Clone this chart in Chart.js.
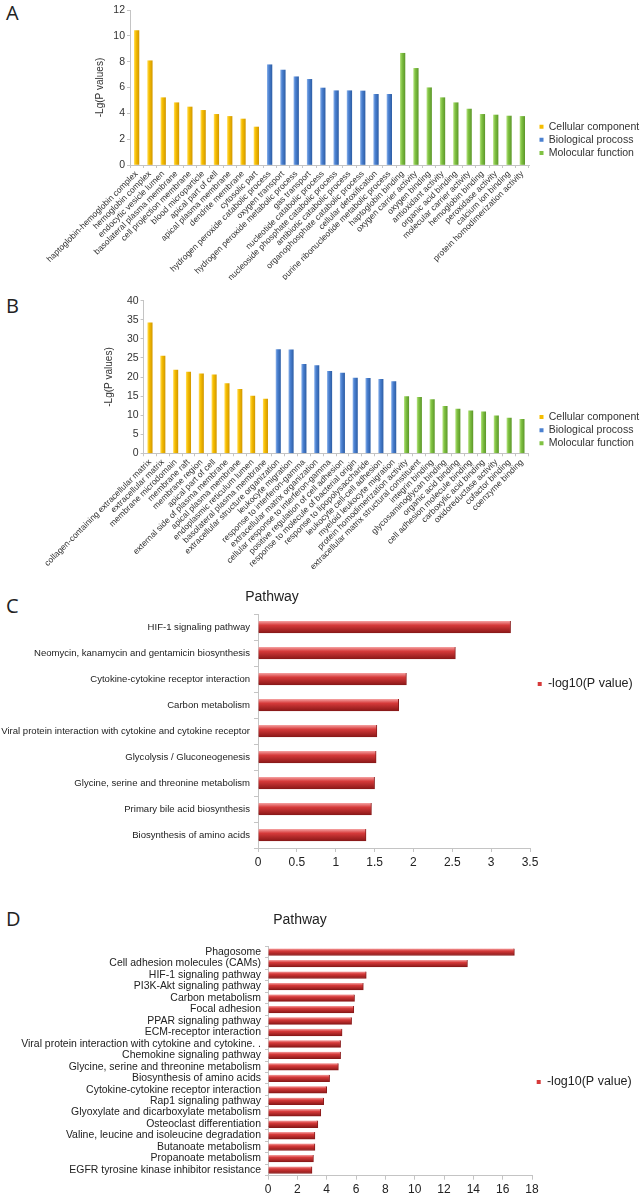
<!DOCTYPE html>
<html><head><meta charset="utf-8">
<script src="https://cdn.jsdelivr.net/npm/chart.js@4.4.1/dist/chart.umd.min.js"></script>
<style>
html,body{margin:0;padding:0;background:#fff;}
body{width:640px;height:1196px;position:relative;overflow:hidden;}
canvas{position:absolute;left:0;}
.letter{position:absolute;font-family:'Open Sans','Liberation Sans',sans-serif;font-size:20px;line-height:24px;color:#222;}
</style></head><body>
<div class="letter" style="left:6px;top:1px">A</div>
<div class="letter" style="left:6px;top:294px">B</div>
<div class="letter" style="left:6px;top:594px">C</div>
<div class="letter" style="left:6px;top:907px">D</div>
<canvas id="cA" width="640" height="280" style="top:0px"></canvas>
<canvas id="cB" width="640" height="300" style="top:280px"></canvas>
<canvas id="cC" width="640" height="300" style="top:580px"></canvas>
<canvas id="cD" width="640" height="316" style="top:880px"></canvas>
<script>
// ---------------- DATA ----------------
const seriesNames = ['Cellular component', 'Biological procoss', 'Molocular function'];

const aLabels = ['haptoglobin-hemoglobin complex','hemoglobin complex','endocytic vesicle lumen','basolateral plasma membrane','cell projection membrane','blood microparticle','apical part of cell','apical plasma membrane','dendrite membrane','cytosolic part',
 'hydrogen peroxide catabolic process','oxygen transport','hydrogen peroxide metabolic process','gas transport','nucleotide catabolic process','nucleoside phosphate catabolic process','antibiotic catabolic process','organophosphate catabolic process','cellular detoxification','purine ribonucleotide metabolic process',
 'haptoglobin binding','oxygen carrier activity','oxygen binding','antioxidant activity','organic acid binding','molecular carrier activity','hemoglobin binding','peroxidase activity','calcium ion binding','protein homodimerization activity'];
const aCellular = [10.4, 8.07, 5.21, 4.82, 4.49, 4.23, 3.92, 3.76, 3.56, 2.94];
const aBiological = [7.76, 7.35, 6.83, 6.63, 5.96, 5.75, 5.75, 5.73, 5.47, 5.47];
const aMolecular = [8.65, 7.48, 5.98, 5.21, 4.82, 4.33, 3.92, 3.87, 3.79, 3.76];
const aTicks = {min: 0, max: 12, step: 2};

const bLabels = ['collagen-containing extracellular matrix','extracellular matrix','membrane microdomain','membrane raft','membrane region','apical part of cell','external side of plasma membrane','apical plasma membrane','endoplasmic reticulum lumen','basolateral plasma membrane',
 'extracellular structure organization','leukocyte migration','response to interferon-gamma','extracellular matrix organization','cellular response to interferon-gamma','positive regulation of cell adhesion','response to molecule of bacterial origin','response to lipopolysaccharide','leukocyte cell-cell adhesion','myeloid leukocyte migration',
 'protein homodimerization activity','extracellular matrix structural constituent','integrin binding','glycosaminoglycan binding','organic acid binding','cell adhesion molecule binding','carboxylic acid binding','oxidoreductase activity','cofactor binding','coenzyme binding'];
const bCellular = [34.2, 25.5, 21.8, 21.3, 20.8, 20.6, 18.3, 16.8, 15.0, 14.2];
const bBiological = [27.2, 27.1, 23.3, 23.0, 21.5, 21.0, 19.7, 19.65, 19.4, 18.8];
const bMolecular = [14.85, 14.7, 14.1, 12.3, 11.6, 11.1, 10.9, 9.8, 9.2, 8.9];
const bTicks = {min: 0, max: 40, step: 5};

const cLabels = ['HIF-1 signaling pathway','Neomycin, kanamycin and gentamicin biosynthesis','Cytokine-cytokine receptor interaction','Carbon metabolism','Viral protein interaction with cytokine and cytokine receptor','Glycolysis / Gluconeogenesis','Glycine, serine and threonine metabolism','Primary bile acid biosynthesis','Biosynthesis of amino acids'];
const cValues = [3.25, 2.54, 1.91, 1.81, 1.53, 1.52, 1.50, 1.46, 1.39];
const cTicks = {min: 0, max: 3.5, step: 0.5};

const dLabels = ['Phagosome','Cell adhesion molecules (CAMs)','HIF-1 signaling pathway','PI3K-Akt signaling pathway','Carbon metabolism','Focal adhesion','PPAR signaling pathway','ECM-receptor interaction','Viral protein interaction with cytokine and cytokine. .','Chemokine signaling pathway','Glycine, serine and threonine metabolism','Biosynthesis of amino acids','Cytokine-cytokine receptor interaction','Rap1 signaling pathway','Glyoxylate and dicarboxylate metabolism','Osteoclast differentiation','Valine, leucine and isoleucine degradation','Butanoate metabolism','Propanoate metabolism','EGFR tyrosine kinase inhibitor resistance'];
const dValues = [16.8, 13.6, 6.7, 6.5, 5.9, 5.85, 5.7, 5.05, 4.95, 4.95, 4.8, 4.2, 4.0, 3.8, 3.6, 3.4, 3.2, 3.2, 3.1, 3.0];
const dTicks = {min: 0, max: 18, step: 2};

const pathwaySeries = '-log10(P value)';
const pathwayTitle = 'Pathway';
const yTitle = '-Lg(P values)';

// ---------------- STYLE ----------------
const FONT = "'Liberation Sans', Arial, sans-serif";
Chart.defaults.font.family = FONT;
Chart.defaults.color = '#333';
Chart.defaults.animation = false;
const AXIS = '#c4c4c4';
const PAL = {
  yellow: ['#ffd84a', '#f5bd00', '#d49a00'],
  blue:   ['#7fa9e6', '#4a80d0', '#2f60a8'],
  green:  ['#aede78', '#80c242', '#5f9a2c'],
  red:    ['#f6a3a3', '#d63a3a', '#8a1717']
};

const mctx = document.createElement('canvas').getContext('2d');
// font size so that the widest label occupies the target width (layout only)
function fitSize(labels, target) {
  mctx.font = '10px ' + FONT;
  const w = Math.max(...labels.map(s => mctx.measureText(s).width));
  return Math.min(12.5, 10 * target / w);
}

function fmt(v) { return String(Number(v.toFixed(2))); }

function pad(arr, offset, total) {
  const out = new Array(total).fill(null);
  arr.forEach((v, i) => { out[offset + i] = v; });
  return out;
}

function barFill(c, axis, thick) {
  return function (ctx) {
    if (ctx.type !== 'data') return c[1];
    const chart = ctx.chart;
    const sc = chart.scales[axis];
    if (!sc) return c[1];
    const p = sc.getPixelForValue(ctx.dataIndex);
    if (!isFinite(p)) return c[1];
    const g = axis === 'x'
      ? chart.ctx.createLinearGradient(p - thick / 2, 0, p + thick / 2, 0)
      : chart.ctx.createLinearGradient(0, p - thick / 2, 0, p + thick / 2);
    g.addColorStop(0, c[0]);
    g.addColorStop(0.35, c[1]);
    g.addColorStop(1, c[2]);
    return g;
  };
}

// move legend / title to fixed spots (chart area is unaffected)
const placePlugin = {
  id: 'place',
  afterLayout(chart, args, o) {
    if (o.legend && chart.legend) {
      const l = chart.legend, w = l.width, h = l.height;
      l.left = o.legend.x; l.right = o.legend.x + w;
      l.top = o.legend.y; l.bottom = o.legend.y + h;
    }
    if (o.title && chart.titleBlock) {
      const t = chart.titleBlock, h = t.bottom - t.top;
      t.left = o.title.cx - 150; t.right = o.title.cx + 150;
      t.top = o.title.cy - h / 2; t.bottom = t.top + h;
    }
  }
};

function legendLabels(colors) {
  return function (chart) {
    const items = Chart.defaults.plugins.legend.labels.generateLabels(chart);
    items.forEach(it => { it.lineWidth = 0; it.fillStyle = colors[it.datasetIndex]; it.strokeStyle = colors[it.datasetIndex]; });
    return items;
  };
}

function goChart(id, labels, series, ticks, geo) {
  const n = labels.length;
  const cols = [PAL.yellow, PAL.blue, PAL.green];
  const datasets = series.map((vals, k) => ({
    label: seriesNames[k],
    data: pad(vals, k * 10, n),
    backgroundColor: barFill(cols[k], 'x', geo.bar),
    borderWidth: 0,
    barThickness: geo.bar,
    grouped: false
  }));
  new Chart(document.getElementById(id), {
    type: 'bar',
    data: { labels, datasets },
    plugins: [placePlugin],
    options: {
      responsive: false,
      layout: { padding: { left: geo.padL, right: geo.padR, top: geo.padT, bottom: 0 } },
      plugins: {
        legend: {
          position: 'chartArea', align: 'start',
          labels: { boxWidth: 4, boxHeight: 4, padding: 2.7, font: { size: 10.5 }, color: '#333',
                    generateLabels: legendLabels(cols.map(c => c[1])) }
        },
        tooltip: { enabled: false },
        place: { legend: geo.legend }
      },
      scales: {
        x: {
          offset: true,
          border: { color: AXIS },
          grid: { display: true, drawOnChartArea: false, color: AXIS, tickLength: 3, offset: true },
          ticks: { autoSkip: false, minRotation: 45, maxRotation: 45, font: { size: 8.5 }, color: '#333', padding: 1 },
          afterFit: s => { s.height = geo.xH; }
        },
        y: {
          min: ticks.min, max: ticks.max,
          border: { color: AXIS },
          grid: { display: true, drawOnChartArea: false, color: AXIS, tickLength: 3 },
          ticks: { stepSize: ticks.step, font: { size: 10.5 }, color: '#333', padding: 2, callback: fmt },
          title: { display: true, text: yTitle, font: { size: 10 }, color: '#333', padding: { top: 4, bottom: 2 } },
          afterFit: s => { s.width = geo.yW; }
        }
      }
    }
  });
}

function pathChart(id, labels, values, ticks, geo) {
  new Chart(document.getElementById(id), {
    type: 'bar',
    data: { labels, datasets: [{
      label: pathwaySeries,
      data: values,
      backgroundColor: barFill(PAL.red, 'y', geo.bar),
      borderColor: '#8a1a1a',
      borderWidth: { top: 0, left: 0, right: 1, bottom: 1 },
      borderSkipped: false,
      barThickness: geo.bar
    }] },
    plugins: [placePlugin],
    options: {
      indexAxis: 'y',
      responsive: false,
      layout: { padding: { left: 0, right: geo.padR, top: geo.padT, bottom: 0 } },
      plugins: {
        title: { display: true, text: pathwayTitle, font: { size: 14, weight: 'normal' }, color: '#222', padding: 0 },
        legend: {
          position: 'chartArea', align: 'start',
          labels: { boxWidth: 4, boxHeight: 4, padding: 3, font: { size: geo.legFont }, color: '#222',
                    generateLabels: legendLabels([PAL.red[1]]) }
        },
        tooltip: { enabled: false },
        place: { legend: geo.legend, title: geo.title }
      },
      scales: {
        y: {
          offset: true,
          border: { color: AXIS },
          grid: { display: true, drawOnChartArea: false, color: AXIS, tickLength: geo.yTick, offset: true },
          ticks: { autoSkip: false, font: { size: geo.labFont }, color: '#222', padding: geo.yPad },
          afterFit: s => { s.width = geo.yW; }
        },
        x: {
          min: ticks.min, max: ticks.max,
          border: { color: AXIS },
          grid: { display: true, drawOnChartArea: false, color: AXIS, tickLength: 4 },
          ticks: { stepSize: ticks.step, font: { size: 12 }, color: '#222', padding: 3, callback: fmt },
          afterFit: s => { s.height = geo.xH; }
        }
      }
    }
  });
}

goChart('cA', aLabels, [aCellular, aBiological, aMolecular], aTicks,
  { bar: 4.6, padL: 90, padR: 111, padT: 10, yW: 40, xH: 115, legend: { x: 536.8, y: 118.7 } });
goChart('cB', bLabels, [bCellular, bBiological, bMolecular], bTicks,
  { bar: 4.4, padL: 99.5, padR: 111.6, padT: 20.7, yW: 44.1, xH: 126.7, legend: { x: 536.8, y: 129 } });
pathChart('cC', cLabels, cValues, cTicks,
  { bar: 12, padR: 110, padT: 17.2, yW: 258, xH: 32, yTick: 4, yPad: 4, labFont: fitSize(cLabels, 249), legFont: 12.5,
    legend: { x: 534.7, y: 94.7 }, title: { cx: 272, cy: 17 } });
pathChart('cD', dLabels, dValues, dTicks,
  { bar: 7, padR: 108, padT: 49.5, yW: 268, xH: 20.3, yTick: 3, yPad: 4, labFont: fitSize(dLabels, 240), legFont: 12.5,
    legend: { x: 533.7, y: 192.7 }, title: { cx: 300, cy: 40 } });
</script>
</body></html>
